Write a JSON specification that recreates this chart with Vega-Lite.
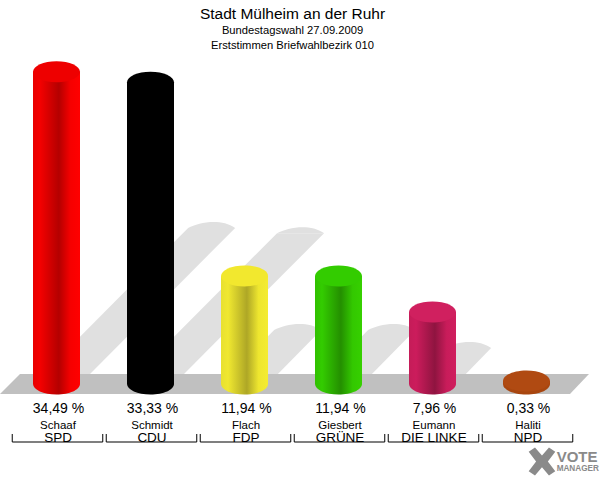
{
"$schema":"https://vega.github.io/schema/vega-lite/v6.json",
"width":564,"height":425,
"padding":{"left":10.5,"top":55,"right":25.5,"bottom":0},
"autosize":"none",
"background":"white",
"config":{"view":{"stroke":null},"text":{"font":"Liberation Sans"}},
"title":{"text":"Stadt Mülheim an der Ruhr","subtitle":["Bundestagswahl 27.09.2009","Erststimmen Briefwahlbezirk 010"],"anchor":"middle","frame":"group","font":"Liberation Sans","fontSize":15.5,"fontWeight":"normal","color":"black","subtitleFont":"Liberation Sans","subtitleFontSize":11.2,"subtitleColor":"black","subtitlePadding":2,"subtitleLineHeight":15,"offset":4},
"datasets":{
"votes":[
{"party":"SPD","candidate":"Schaaf","share":34.49,"percent":"34,49 %"},
{"party":"CDU","candidate":"Schmidt","share":33.33,"percent":"33,33 %"},
{"party":"FDP","candidate":"Flach","share":11.94,"percent":"11,94 %"},
{"party":"GRÜNE","candidate":"Giesbert","share":11.94,"percent":"11,94 %"},
{"party":"DIE LINKE","candidate":"Eumann","share":7.96,"percent":"7,96 %"},
{"party":"NPD","candidate":"Haliti","share":0.33,"percent":"0,33 %"}],
"shadows":[
{"party":"SPD","height":0,"left":-0.26,"mid":-0.01,"right":0.24},
{"party":"SPD","height":17.25,"left":1.39,"mid":1.64,"right":1.89},
{"party":"CDU","height":0,"left":0.74,"mid":0.99,"right":1.24},
{"party":"CDU","height":16.67,"left":2.336,"mid":2.586,"right":2.836},
{"party":"FDP","height":0,"left":1.74,"mid":1.99,"right":2.24},
{"party":"FDP","height":5.97,"left":2.305,"mid":2.555,"right":2.805},
{"party":"GRÜNE","height":0,"left":2.74,"mid":2.99,"right":3.24},
{"party":"GRÜNE","height":5.97,"left":3.305,"mid":3.555,"right":3.805},
{"party":"DIE LINKE","height":0,"left":3.74,"mid":3.99,"right":4.24},
{"party":"DIE LINKE","height":3.98,"left":4.113,"mid":4.363,"right":4.613}],
"floor":[
{"level":1.105,"left":-0.399,"right":5.654},
{"level":-1.105,"left":-0.612,"right":5.452}]
},
"resolve":{"scale":{"x":"independent"}},
"layer":[
{"layer":[
{"data":{"name":"shadows"},"mark":{"type":"area","orient":"horizontal","color":"#e0e0e0"},
"encoding":{"y":{"field":"height","type":"quantitative","axis":null,"scale":{"domain":[-10.608,36.354],"nice":false,"zero":false}},
"x":{"field":"left","type":"quantitative","axis":null,"scale":{"domain":[-0.5,5.5],"nice":false,"zero":false}},"x2":{"field":"right"},"detail":{"field":"party"}}},
{"data":{"name":"shadows"},"transform":[{"filter":"datum.height>0"}],"mark":{"type":"point","filled":true,"opacity":1,"color":"#e0e0e0","size":2209,"shape":"M-1,0C-0.55,-0.24 0.4,-0.42 1,0Z"},
"encoding":{"y":{"field":"height","type":"quantitative","axis":null,"scale":{"domain":[-10.608,36.354],"nice":false,"zero":false}},
"x":{"field":"mid","type":"quantitative","axis":null,"scale":{"domain":[-0.5,5.5],"nice":false,"zero":false}}}},
{"data":{"name":"floor"},"mark":{"type":"area","orient":"horizontal","color":"#c0c0c0"},
"encoding":{"y":{"field":"level","type":"quantitative","axis":null,"scale":{"domain":[-10.608,36.354],"nice":false,"zero":false}},
"x":{"field":"left","type":"quantitative","axis":null,"scale":{"domain":[-0.5,5.5],"nice":false,"zero":false}},"x2":{"field":"right"}}},
{"data":{"values":[{"logo":"X"}]},"mark":{"type":"point","filled":true,"opacity":1,"color":"#8a8a8a","size":784,"shape":"M-0.95,-0.7L-0.5,-1L0,-0.42L0.5,-1L0.95,-0.7L0.42,0L0.95,0.7L0.5,1L0,0.42L-0.5,1L-0.95,0.7L-0.42,0Z"},
"encoding":{"x":{"datum":5.154,"type":"quantitative","axis":null,"scale":{"domain":[-0.5,5.5],"nice":false,"zero":false}},
"y":{"datum":-8.56,"type":"quantitative","axis":null,"scale":{"domain":[-10.608,36.354],"nice":false,"zero":false}}}},
{"data":{"values":[{"logo":"VOTE","level":-8.1,"size":15},{"logo":"MANAGER","level":-9.42,"size":8.2}]},"mark":{"type":"text","font":"Liberation Sans","fontWeight":"bold","color":"#8a8a8a","align":"left","baseline":"middle"},
"encoding":{"x":{"datum":5.31,"type":"quantitative","axis":null,"scale":{"domain":[-0.5,5.5],"nice":false,"zero":false}},
"y":{"field":"level","type":"quantitative","axis":null,"scale":{"domain":[-10.608,36.354],"nice":false,"zero":false}},
"text":{"field":"logo"},"size":{"field":"size","type":"quantitative","scale":null}}}
]},
{"data":{"name":"votes"},
"encoding":{"x":{"field":"party","type":"nominal","axis":null,"sort":null,"scale":{"type":"band","domain":["SPD","CDU","FDP","GRÜNE","DIE LINKE","NPD"],"paddingInner":0.037,"paddingOuter":0.0185}},
"y":{"field":"share","type":"quantitative","axis":null,"stack":null,"scale":{"domain":[-10.608,36.354],"nice":false,"zero":false}}},
"layer":[
{"transform":[{"filter":"datum.party=='SPD'"}],"layer":[
{"mark":{"type":"point","xOffset":-1,"filled":true,"opacity":1,"size":2209,"shape":"M-1,0A1,0.447 0 1 1 1,0A1,0.447 0 1 1 -1,0Z","fill":{"gradient":"linear","x1":0,"x2":1,"y1":0,"y2":0,"stops":[{"offset":0,"color":"#e80000"},{"offset":0.15,"color":"#f40000"},{"offset":0.55,"color":"#b40000"},{"offset":0.8,"color":"#f60000"},{"offset":1,"color":"#ff0000"}]}},"encoding":{"y":{"datum":0,"type":"quantitative"}}},
{"mark":{"type":"bar","xOffset":-1,"width":47,"fill":{"gradient":"linear","x1":0,"x2":1,"y1":0,"y2":0,"stops":[{"offset":0,"color":"#e80000"},{"offset":0.15,"color":"#f40000"},{"offset":0.55,"color":"#b40000"},{"offset":0.8,"color":"#f60000"},{"offset":1,"color":"#ff0000"}]}},"encoding":{"y2":{"datum":0}}}]},
{"transform":[{"filter":"datum.party=='CDU'"}],"layer":[
{"mark":{"type":"point","xOffset":-1,"filled":true,"opacity":1,"size":2209,"shape":"M-1,0A1,0.447 0 1 1 1,0A1,0.447 0 1 1 -1,0Z","fill":"#000000"},"encoding":{"y":{"datum":0,"type":"quantitative"}}},
{"mark":{"type":"bar","xOffset":-1,"width":47,"fill":"#000000"},"encoding":{"y2":{"datum":0}}}]},
{"transform":[{"filter":"datum.party=='FDP'"}],"layer":[
{"mark":{"type":"point","xOffset":-1,"filled":true,"opacity":1,"size":2209,"shape":"M-1,0A1,0.447 0 1 1 1,0A1,0.447 0 1 1 -1,0Z","fill":{"gradient":"linear","x1":0,"x2":1,"y1":0,"y2":0,"stops":[{"offset":0,"color":"#e8e030"},{"offset":0.15,"color":"#f0e830"},{"offset":0.55,"color":"#aea726"},{"offset":0.8,"color":"#eee62f"},{"offset":1,"color":"#f4ec30"}]}},"encoding":{"y":{"datum":0,"type":"quantitative"}}},
{"mark":{"type":"bar","xOffset":-1,"width":47,"fill":{"gradient":"linear","x1":0,"x2":1,"y1":0,"y2":0,"stops":[{"offset":0,"color":"#e8e030"},{"offset":0.15,"color":"#f0e830"},{"offset":0.55,"color":"#aea726"},{"offset":0.8,"color":"#eee62f"},{"offset":1,"color":"#f4ec30"}]}},"encoding":{"y2":{"datum":0}}}]},
{"transform":[{"filter":"datum.party=='GRÜNE'"}],"layer":[
{"mark":{"type":"point","xOffset":-1,"filled":true,"opacity":1,"size":2209,"shape":"M-1,0A1,0.447 0 1 1 1,0A1,0.447 0 1 1 -1,0Z","fill":{"gradient":"linear","x1":0,"x2":1,"y1":0,"y2":0,"stops":[{"offset":0,"color":"#30c000"},{"offset":0.15,"color":"#33cc00"},{"offset":0.55,"color":"#248f00"},{"offset":0.8,"color":"#33c800"},{"offset":1,"color":"#36d000"}]}},"encoding":{"y":{"datum":0,"type":"quantitative"}}},
{"mark":{"type":"bar","xOffset":-1,"width":47,"fill":{"gradient":"linear","x1":0,"x2":1,"y1":0,"y2":0,"stops":[{"offset":0,"color":"#30c000"},{"offset":0.15,"color":"#33cc00"},{"offset":0.55,"color":"#248f00"},{"offset":0.8,"color":"#33c800"},{"offset":1,"color":"#36d000"}]}},"encoding":{"y2":{"datum":0}}}]},
{"transform":[{"filter":"datum.party=='DIE LINKE'"}],"layer":[
{"mark":{"type":"point","xOffset":-1,"filled":true,"opacity":1,"size":2209,"shape":"M-1,0A1,0.447 0 1 1 1,0A1,0.447 0 1 1 -1,0Z","fill":{"gradient":"linear","x1":0,"x2":1,"y1":0,"y2":0,"stops":[{"offset":0,"color":"#c41c58"},{"offset":0.15,"color":"#cc1c5c"},{"offset":0.55,"color":"#8f1440"},{"offset":0.8,"color":"#c81c5a"},{"offset":1,"color":"#d01e5e"}]}},"encoding":{"y":{"datum":0,"type":"quantitative"}}},
{"mark":{"type":"bar","xOffset":-1,"width":47,"fill":{"gradient":"linear","x1":0,"x2":1,"y1":0,"y2":0,"stops":[{"offset":0,"color":"#c41c58"},{"offset":0.15,"color":"#cc1c5c"},{"offset":0.55,"color":"#8f1440"},{"offset":0.8,"color":"#c81c5a"},{"offset":1,"color":"#d01e5e"}]}},"encoding":{"y2":{"datum":0}}}]},
{"transform":[{"filter":"datum.party=='NPD'"}],"layer":[
{"mark":{"type":"point","xOffset":-1,"filled":true,"opacity":1,"size":2209,"shape":"M-1,0A1,0.447 0 1 1 1,0A1,0.447 0 1 1 -1,0Z","fill":"#a8460f"},"encoding":{"y":{"datum":0,"type":"quantitative"}}},
{"mark":{"type":"bar","xOffset":-1,"width":47,"fill":"#a8460f"},"encoding":{"y2":{"datum":0}}}]},
{"mark":{"type":"point","xOffset":-1,"filled":true,"opacity":1,"size":2209,"shape":"M-1,0A1,0.447 0 1 1 1,0A1,0.447 0 1 1 -1,0Z"},
"encoding":{"fill":{"field":"party","type":"nominal","legend":null,"scale":{"domain":["SPD","CDU","FDP","GRÜNE","DIE LINKE","NPD"],"range":["#ee0000","#000000","#f2e82e","#33cc00","#d0205f","#b04a12"]}}}},
{"mark":{"type":"text","fontSize":14,"baseline":"middle","color":"black","xOffset":1},
"encoding":{"y":{"datum":-2.72,"type":"quantitative"},"text":{"field":"percent"}}},
{"mark":{"type":"text","fontSize":11.5,"baseline":"middle","color":"black","xOffset":0.5},
"encoding":{"y":{"datum":-4.6,"type":"quantitative"},"text":{"field":"candidate"}}},
{"mark":{"type":"text","fontSize":13.5,"baseline":"middle","color":"black","xOffset":0.5},
"encoding":{"y":{"datum":-5.95,"type":"quantitative"},"text":{"field":"party"}}},
{"mark":{"type":"rule","color":"black","strokeWidth":1},
"encoding":{"x":{"field":"party","type":"nominal","bandPosition":0,"axis":null},"y":{"datum":-5.525,"type":"quantitative"},"y2":{"datum":-6.409}}},
{"mark":{"type":"rule","color":"black","strokeWidth":1},
"encoding":{"x":{"field":"party","type":"nominal","bandPosition":1,"axis":null},"y":{"datum":-5.525,"type":"quantitative"},"y2":{"datum":-6.409}}},
{"mark":{"type":"bar","color":"black"},
"encoding":{"y":{"datum":-6.354,"type":"quantitative"},"y2":{"datum":-6.464}}}
]}
]
}
